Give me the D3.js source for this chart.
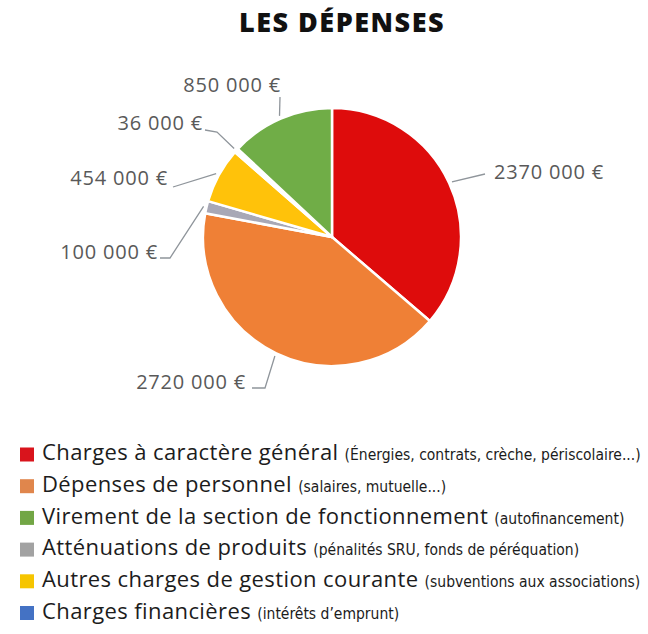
<!DOCTYPE html>
<html><head><meta charset="utf-8">
<script src="https://cdn.jsdelivr.net/npm/d3@7/dist/d3.min.js"></script>
<style>
body{margin:0;background:#fff;}
svg{display:block;}
</style></head>
<body>
<svg id="chart" width="648" height="634"></svg>
<script>
// ---- data ----
const categories = [
  "Charges à caractère général",
  "Dépenses de personnel",
  "Atténuations de produits",
  "Autres charges de gestion courante",
  "Charges financières",
  "Virement de la section de fonctionnement"
];
const values = [2370000, 2720000, 100000, 454000, 36000, 850000];
const valueLabels = ["2370 000 €", "2720 000 €", "100 000 €", "454 000 €", "36 000 €", "850 000 €"];
const legendNotes = [
  "(Énergies, contrats, crèche, périscolaire...)",
  "(salaires, mutuelle...)",
  "(pénalités SRU, fonds de péréquation)",
  "(subventions aux associations)",
  "(intérêts d’emprunt)",
  "(autofinancement)"
];
const legendOrder = [0, 1, 5, 2, 3, 4];
const title = "LES DÉPENSES";

// ---- styles ----
const sliceColors = ["#de0c0c", "#ef8036", "#a8a8b6", "#ffc20a", "#ffffff", "#70ad47"];
const legendColors = ["#d9141c", "#e0864c", "#a2a2a2", "#f6c500", "#4472c4", "#72a645"];

const svg = d3.select("#chart");
const cx = 332, cy = 237, R = 129;

svg.append("text").attr("x", 342).attr("y", 32).attr("text-anchor", "middle")
  .style("font-family", "'Open Sans', sans-serif").style("font-weight", 800)
  .style("font-size", "27px").style("letter-spacing", "1.5px")
  .attr("fill", "#111").text(title);

const pie = d3.pie().sort(null).value(d => d)(values);
const arc = d3.arc().innerRadius(0).outerRadius(R);
const g = svg.append("g").attr("transform", `translate(${cx},${cy})`);
g.selectAll("path.slice").data(pie).join("path").attr("class", "slice")
  .attr("d", arc).attr("fill", (d, i) => sliceColors[i])
  .attr("stroke", "#fff").attr("stroke-width", 2.5).attr("stroke-linejoin", "round");

// label layout (offsets from pie centre): leader points after arc anchor, and text anchor
const labelLayout = [
  {pts: [[153, -63]], tx: 162, ty: -65, anchor: "start"},
  {pts: [[-67, 151], [-80, 151]], tx: -86, ty: 145, anchor: "end"},
  {pts: [[-162, 21], [-172, 21]], tx: -174, ty: 15, anchor: "end"},
  {pts: [[-159, -50]], tx: -164, ty: -59, anchor: "end"},
  {pts: [[-115, -105], [-127, -107]], tx: -129, ty: -114, anchor: "end"},
  {pts: [[-52, -140]], tx: -51, ty: -152, anchor: "end"}
];
pie.forEach((d, i) => {
  const a = (d.startAngle + d.endAngle) / 2;
  const p0 = [(R + 3) * Math.sin(a), -(R + 3) * Math.cos(a)];
  const L = labelLayout[i];
  g.append("path").attr("d", d3.line()([p0, ...L.pts])).attr("fill", "none")
    .attr("stroke", "#8f959b").attr("stroke-width", 1.3);
  g.append("text").attr("x", L.tx).attr("y", L.ty).attr("text-anchor", L.anchor)
    .attr("dy", "0.35em")
    .style("font-family", "'Open Sans', sans-serif").style("font-size", "20px")
    .style("letter-spacing", "0.8px")
    .attr("fill", "#595959").text(valueLabels[i]);
});

// legend
const lg = svg.append("g");
legendOrder.forEach((ci, k) => {
  const y = 454.5 + k * 31.7;
  lg.append("rect").attr("x", 20).attr("y", y - 7).attr("width", 14).attr("height", 14)
    .attr("fill", legendColors[ci]);
  const t = lg.append("text").attr("x", 42).attr("y", y).attr("dy", "0.36em")
    .attr("fill", "#1c1c1c");
  t.append("tspan").style("font-family", "'Open Sans', sans-serif").style("font-weight", 400)
    .style("font-size", "22px").style("letter-spacing", "0.4px").text(categories[ci] + " ");
  t.append("tspan").style("font-family", "'Liberation Sans Narrow', 'DejaVu Sans Condensed', sans-serif")
    .style("font-size", "15.5px").style("letter-spacing", "0px").text(legendNotes[ci]);
});
</script>
</body></html>
